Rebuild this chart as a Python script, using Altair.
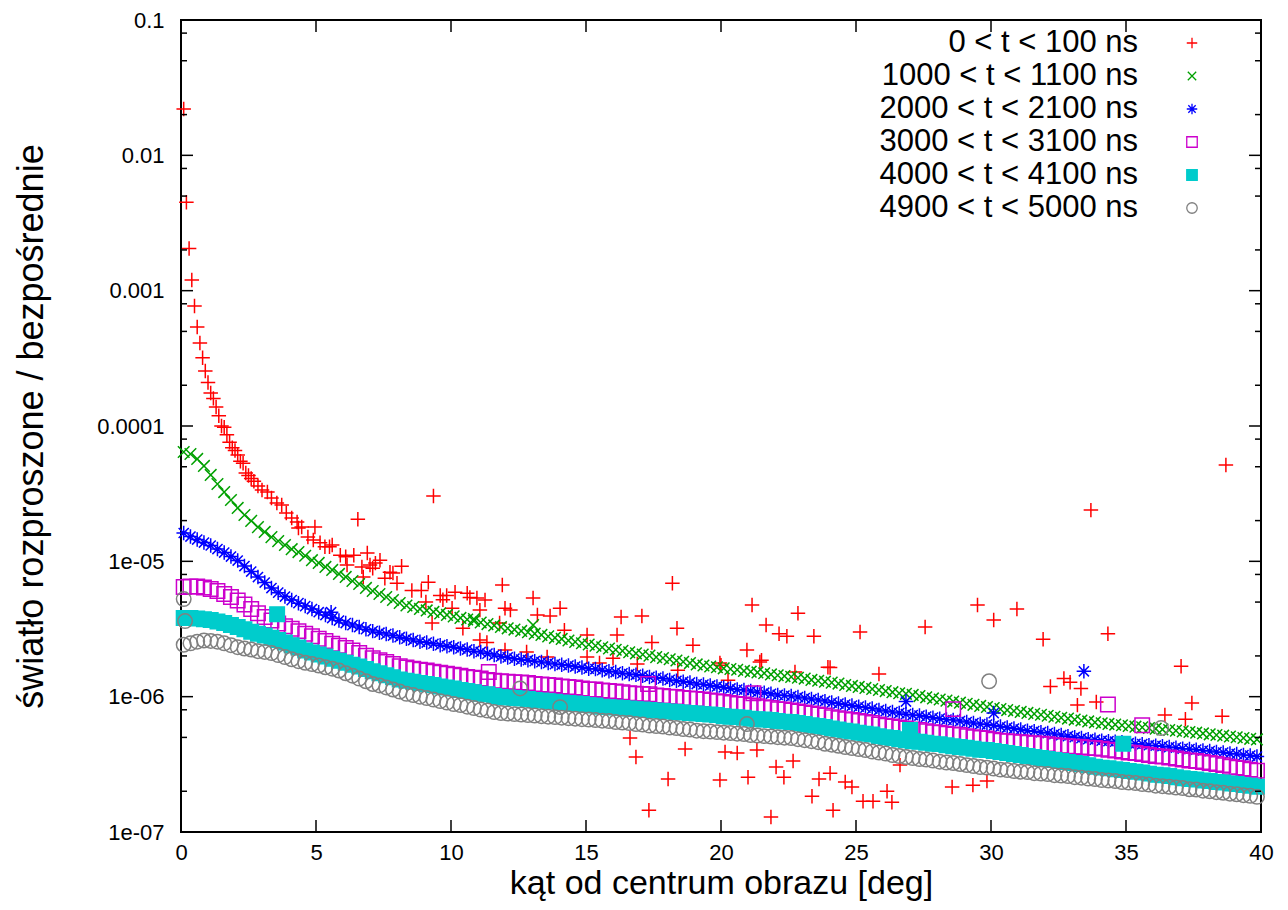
import altair as alt
import pandas as pd

# ---------------- data (values in units of 1e-7) ----------------
SERIES = ["0 < t < 100 ns", "1000 < t < 1100 ns", "2000 < t < 2100 ns",
          "3000 < t < 3100 ns", "4000 < t < 4100 ns", "4900 < t < 5000 ns"]

# common angle grid of the binned curves [deg]
GRID = [round(0.1 + 0.25 * i, 2) for i in range(160)]

GREEN = [643, 621, 571, 507, 435, 373, 325, 284, 248, 220, 199, 179, 165, 151, 141, 132, 123, 117, 110, 102,
         97.3, 90.9, 86.4, 80.7, 76.7, 71.6, 68.0, 63.6, 60.4, 57.4, 54.5, 51.8, 49.2, 47.2, 46.0, 44.5, 43.4, 42.3, 41.2, 40.2,
         39.2, 38.2, 37.2, 36.3, 35.3, 34.4, 33.6, 32.7, 32.0, 31.3, 30.6, 29.9, 29.2, 28.6, 27.9, 27.2, 26.7, 26.0, 25.4, 24.8,
         24.3, 23.8, 23.2, 22.7, 22.2, 21.8, 21.3, 20.9, 20.5, 20.1, 19.6, 19.3, 18.9, 18.5, 18.1, 17.7, 17.3, 17.0, 16.7, 16.5,
         16.2, 16.0, 15.8, 15.5, 15.3, 15.1, 14.9, 14.6, 14.4, 14.2, 14.0, 13.8, 13.6, 13.3, 13.1, 12.9, 12.7, 12.5, 12.2, 12.0,
         11.8, 11.6, 11.4, 11.2, 11.0, 10.8, 10.6, 10.5, 10.3, 10.1, 9.89, 9.71, 9.53, 9.35, 9.20, 9.03, 8.87, 8.70, 8.54, 8.39,
         8.25, 8.09, 7.96, 7.84, 7.71, 7.58, 7.46, 7.35, 7.23, 7.10, 6.99, 6.89, 6.77, 6.67, 6.56, 6.46, 6.36, 6.29, 6.22, 6.15,
         6.07, 6.00, 5.93, 5.87, 5.80, 5.73, 5.67, 5.61, 5.54, 5.48, 5.42, 5.35, 5.27, 5.21, 5.15, 5.08, 5.01, 4.95, 4.88, 4.83]

BLUE = [162, 152.5, 144.9, 137.7, 130.9, 123.3, 116.1, 108.5, 101.3, 92.3, 84.0, 76.5, 69.7, 63.5, 58.7, 54.9, 51.7, 49.1, 46.7, 44.4,
        42.1, 40.1, 38.1, 36.5, 35.0, 33.8, 32.7, 31.5, 30.5, 29.7, 29.0, 28.3, 27.5, 26.8, 26.2, 25.5, 25.1, 24.6, 24.0, 23.6,
        23.2, 22.7, 22.3, 21.7, 21.4, 20.8, 20.3, 19.8, 19.5, 19.1, 18.8, 18.6, 18.3, 18.0, 17.7, 17.4, 17.2, 17.0, 16.7, 16.4,
        16.1, 16.0, 15.7, 15.4, 15.2, 14.9, 14.7, 14.5, 14.3, 14.0, 13.8, 13.6, 13.3, 13.1, 12.9, 12.7, 12.4, 12.3, 12.1, 11.9,
        11.7, 11.5, 11.3, 11.2, 11.0, 10.8, 10.7, 10.5, 10.3, 10.2, 10.1, 9.93, 9.76, 9.60, 9.43, 9.27, 9.04, 8.89, 8.74, 8.59,
        8.44, 8.30, 8.16, 7.96, 7.82, 7.69, 7.56, 7.43, 7.31, 7.25, 7.12, 7.00, 6.88, 6.77, 6.71, 6.60, 6.49, 6.38, 6.27, 6.22,
        6.11, 6.01, 5.91, 5.81, 5.71, 5.61, 5.56, 5.47, 5.38, 5.29, 5.20, 5.11, 5.02, 4.94, 4.85, 4.81, 4.73, 4.69, 4.65, 4.61,
        4.53, 4.49, 4.46, 4.38, 4.34, 4.31, 4.24, 4.20, 4.13, 4.10, 4.06, 4.00, 3.96, 3.90, 3.86, 3.80, 3.77, 3.70, 3.67, 3.61]

MAGENTA = [64.6, 65.1, 65.1, 64.0, 62.4, 60.3, 57.3, 54.4, 51.3, 47.9, 44.4, 41.4, 38.8, 36.5, 34.7, 33.2, 31.8, 30.5, 29.2, 28.0,
           26.8, 25.8, 24.6, 23.8, 22.9, 21.9, 21.0, 20.1, 19.2, 18.6, 18.0, 17.4, 16.8, 16.4, 16.1, 15.8, 15.6, 15.3, 15.0, 14.8,
           14.5, 14.3, 14.0, 13.8, 13.6, 13.3, 13.1, 13.0, 12.9, 12.8, 12.7, 12.6, 12.4, 12.3, 12.2, 12.1, 11.9, 11.8, 11.7, 11.5,
           11.3, 11.3, 11.1, 11.0, 10.9, 10.8, 10.6, 10.5, 10.45, 10.4, 10.2, 10.1, 10.0, 9.93, 9.76, 9.68, 9.60, 9.51, 9.35, 9.27,
           9.12, 8.96, 8.81, 8.74, 8.59, 8.51, 8.37, 8.23, 8.09, 8.03, 7.89, 7.76, 7.63, 7.50, 7.37, 7.25, 7.06, 6.94, 6.82, 6.71,
           6.60, 6.49, 6.38, 6.22, 6.11, 6.01, 5.91, 5.81, 5.71, 5.66, 5.56, 5.47, 5.42, 5.33, 5.25, 5.20, 5.11, 5.02, 4.94, 4.90,
           4.81, 4.73, 4.69, 4.65, 4.61, 4.57, 4.53, 4.49, 4.46, 4.38, 4.34, 4.31, 4.27, 4.24, 4.20, 4.17, 4.13, 4.06, 4.00, 3.93,
           3.86, 3.83, 3.77, 3.70, 3.64, 3.61, 3.55, 3.49, 3.43, 3.37, 3.34, 3.29, 3.23, 3.18, 3.12, 3.04, 2.99, 2.94, 2.89, 2.84]

CYAN = [38.1, 38.1, 37.8, 37.4, 36.8, 35.9, 35.0, 33.8, 32.7, 31.5, 30.2, 29.2, 28.3, 27.3, 26.2, 25.1, 24.0, 23.1, 21.9, 21.2,
        20.5, 19.8, 19.1, 18.4, 17.8, 17.2, 16.7, 16.0, 15.4, 14.9, 14.4, 13.9, 13.4, 13.1, 12.9, 12.6, 12.4, 12.2, 11.9, 11.7,
        11.5, 11.2, 11.0, 10.8, 10.5, 10.4, 10.1, 9.93, 9.85, 9.76, 9.68, 9.60, 9.43, 9.35, 9.27, 9.19, 9.04, 8.96, 8.89, 8.81,
        8.66, 8.59, 8.44, 8.37, 8.30, 8.23, 8.16, 8.09, 8.03, 7.96, 7.89, 7.82, 7.76, 7.69, 7.63, 7.56, 7.50, 7.43, 7.37, 7.31,
        7.18, 7.12, 7.06, 7.00, 6.88, 6.82, 6.77, 6.71, 6.60, 6.54, 6.49, 6.38, 6.27, 6.16, 6.06, 5.96, 5.81, 5.71, 5.61, 5.52,
        5.42, 5.33, 5.25, 5.11, 5.02, 4.94, 4.85, 4.77, 4.69, 4.65, 4.57, 4.49, 4.46, 4.38, 4.31, 4.24, 4.20, 4.13, 4.06, 4.03,
        3.96, 3.90, 3.83, 3.77, 3.70, 3.64, 3.58, 3.52, 3.46, 3.40, 3.34, 3.29, 3.23, 3.18, 3.12, 3.04, 2.99, 2.96, 2.91, 2.87,
        2.82, 2.79, 2.75, 2.70, 2.65, 2.63, 2.59, 2.54, 2.50, 2.46, 2.44, 2.40, 2.38, 2.34, 2.32, 2.28, 2.26, 2.22, 2.20, 2.16]

GRAY = [24.2, 24.8, 25.5, 26.0, 25.8, 25.5, 24.8, 24.0, 23.2, 22.7, 22.3, 21.7, 21.4, 21.0, 20.3, 19.6, 18.9, 18.3, 17.8, 17.4,
        17.0, 16.5, 16.1, 15.6, 14.9, 14.3, 13.6, 13.0, 12.4, 12.1, 11.7, 11.3, 10.9, 10.5, 10.27, 10.0, 9.76, 9.51, 9.27, 9.04,
        8.81, 8.66, 8.44, 8.23, 8.03, 7.89, 7.69, 7.56, 7.50, 7.43, 7.37, 7.31, 7.25, 7.18, 7.12, 7.06, 7.00, 6.94, 6.88, 6.82,
        6.77, 6.71, 6.65, 6.60, 6.49, 6.43, 6.38, 6.27, 6.22, 6.11, 6.06, 6.01, 5.91, 5.86, 5.76, 5.71, 5.61, 5.56, 5.52, 5.47,
        5.42, 5.38, 5.33, 5.29, 5.20, 5.16, 5.11, 5.07, 5.02, 4.98, 4.94, 4.85, 4.77, 4.69, 4.61, 4.49, 4.42, 4.34, 4.24, 4.17,
        4.10, 4.03, 3.93, 3.86, 3.80, 3.70, 3.64, 3.58, 3.52, 3.46, 3.43, 3.37, 3.31, 3.26, 3.23, 3.18, 3.12, 3.07, 3.02, 2.99,
        2.94, 2.89, 2.87, 2.82, 2.79, 2.77, 2.72, 2.70, 2.68, 2.63, 2.61, 2.59, 2.54, 2.52, 2.48, 2.46, 2.42, 2.40, 2.38, 2.34,
        2.32, 2.30, 2.26, 2.24, 2.20, 2.18, 2.16, 2.13, 2.11, 2.07, 2.06, 2.02, 2.00, 1.97, 1.95, 1.92, 1.90, 1.87, 1.85, 1.82]

# isolated points standing out of the bands: (angle, value)
GREEN_EXTRA = [(10.85, 37.4), (13.04, 33.8)]
BLUE_EXTRA = [(5.56, 42.1), (26.85, 9.2), (30.1, 7.56), (33.44, 15.4)]
MAGENTA_EXTRA = [(11.4, 15.2), (17.3, 12.4), (21.2, 10.6), (28.6, 8.09), (34.33, 8.74), (35.6, 6.16)]
CYAN_EXTRA = [(3.56, 40.7), (27.0, 5.66), (34.9, 4.49)]
GRAY_EXTRA = [(0.1, 52.6), (0.15, 36.2), (12.56, 11.5), (14.04, 8.37), (20.96, 6.27), (29.93, 13.0), (36.3, 5.86)]

# 0 < t < 100 ns: (angle, value)
RED = [(0.1, 220000), (0.2, 45000), (0.3, 20500), (0.4, 12000), (0.5, 7700), (0.6, 5400), (0.7, 4100),
       (0.8, 3200), (0.9, 2550), (1.0, 2100), (1.1, 1750), (1.2, 1600), (1.3, 1380), (1.4, 1190), (1.5, 1000),
       (1.6, 980), (1.7, 860), (1.8, 760), (1.9, 690), (2.0, 660), (2.1, 610), (2.2, 550), (2.3, 530), (2.4, 450),
       (2.5, 430), (2.6, 410), (2.7, 390), (2.85, 360), (3.0, 336), (3.2, 325), (3.35, 294), (3.55, 270),
       (3.73, 261), (3.9, 228), (4.1, 209), (4.3, 195), (4.35, 176), (4.47, 179), (4.7, 151), (4.9, 144),
       (4.96, 179), (5.15, 137), (5.33, 128), (5.5, 128), (5.6, 132), (5.9, 111), (6.1, 108), (6.15, 94),
       (6.4, 111), (6.55, 205), (6.7, 91), (6.75, 76.5), (6.9, 115), (7.0, 94), (7.1, 89), (7.2, 97),
       (7.37, 102), (7.55, 75), (7.74, 83), (7.85, 82), (8.0, 69), (8.17, 92), (8.55, 61), (8.9, 61),
       (9.07, 50), (9.16, 70), (9.3, 35), (9.35, 304), (9.6, 56), (9.7, 52), (9.84, 56), (10.04, 45),
       (10.15, 59), (10.44, 32), (10.6, 58), (10.7, 54), (10.96, 53.5), (11.07, 43.6), (11.07, 26.2),
       (11.26, 51.7), (11.33, 25.1), (11.8, 35), (11.9, 66.8), (12.0, 45), (12.0, 22.1), (12.2, 43.6),
       (12.8, 21.4), (13.04, 53.5), (13.2, 40.1), (13.56, 19.6), (13.67, 39.4), (14.04, 45), (14.2, 31),
       (15.04, 28.5), (15.04, 19.6), (15.5, 17.7), (16.0, 19.2), (16.15, 28.5), (16.3, 38.8), (16.63, 4.94),
       (16.85, 3.58), (16.9, 17.4), (17.07, 39.4), (17.33, 1.45), (17.44, 25.1), (18.04, 2.46), (18.2, 69),
       (18.37, 32), (18.4, 15.7), (18.67, 4.1), (18.96, 24), (19.96, 17.7), (19.96, 2.42), (20.0, 17.1),
       (20.15, 3.9), (20.26, 13.2), (20.6, 3.83), (20.96, 22.1), (21.0, 2.54), (21.15, 47.5), (21.33, 4.03),
       (21.44, 18), (21.5, 18.6), (21.67, 33.8), (21.85, 1.29), (22.04, 3.02), (22.15, 29.2), (22.33, 2.54),
       (22.44, 28), (22.67, 3.34), (22.74, 15.2), (22.85, 41.4), (23.37, 1.84), (23.44, 28), (23.63, 2.46),
       (23.96, 16.5), (24.04, 2.72), (24.04, 16.4), (24.15, 1.45), (24.6, 2.34), (24.85, 2.15), (25.15, 30),
       (25.26, 1.69), (25.63, 1.69), (25.85, 14.7), (26.15, 2.0), (26.33, 1.66), (26.63, 3.12), (27.56, 32.7),
       (28.56, 2.15), (29.33, 2.22), (29.5, 47.5), (29.85, 2.38), (30.1, 36.8), (30.96, 44.4), (31.93, 26.6),
       (32.2, 11.9), (32.7, 13.6), (32.93, 12.8), (33.2, 8.66), (33.33, 11.5), (33.7, 239), (33.9, 9.12),
       (34.33, 29.2), (36.44, 7.31), (37.04, 16.8), (37.2, 6.82), (37.44, 8.96), (38.56, 7.18), (38.7, 515)]

UNIT = 1e-7

# axis ticks
X_TICKS = [0, 5, 10, 15, 20, 25, 30, 35, 40]
Y_TICKS = [1e-7, 1e-6, 1e-5, 1e-4, 1e-3, 1e-2, 1e-1]
Y_TICK_LABELS = ["1e-07", "1e-06", "1e-05", "0.0001", "0.001", "0.01", "0.1"]
Y_MINOR = [m * d for d in [1e-7, 1e-6, 1e-5, 1e-4, 1e-3, 1e-2] for m in (2, 5, 8)]

# ---------------- styling ----------------
COLORS = ["#ff0000", "#00a000", "#0000ff", "#cc00cc", "#00cccc", "#808080"]
FILLS = ["transparent", "transparent", "transparent", "transparent", "#00cccc", "transparent"]
PLUS = "M-1,0L1,0M0,-1L0,1"
CROSS = "M-0.8,-0.8L0.8,0.8M-0.8,0.8L0.8,-0.8"
STAR = "M-1,0L1,0M0,-1L0,1M-0.7,-0.7L0.7,0.7M-0.7,0.7L0.7,-0.7"
SHAPES = [PLUS, CROSS, STAR, "square", "square", "circle"]

W, H = 1080, 812
FONT = "Liberation Sans"

# ---------------- build table ----------------
rows = []
for a, v in RED:
    rows.append((a, v * UNIT, SERIES[0]))
for name, vals, extra in [(SERIES[1], GREEN, GREEN_EXTRA), (SERIES[2], BLUE, BLUE_EXTRA),
                          (SERIES[3], MAGENTA, MAGENTA_EXTRA), (SERIES[4], CYAN, CYAN_EXTRA),
                          (SERIES[5], GRAY, GRAY_EXTRA)]:
    for a, v in zip(GRID, vals):
        rows.append((a, v * UNIT, name))
    for a, v in extra:
        rows.append((a, v * UNIT, name))
df = pd.DataFrame(rows, columns=["angle", "value", "series"])
legend_df = pd.DataFrame({"series": SERIES})

xscale = alt.Scale(domain=[0, 40], nice=False, zero=False)
yscale = alt.Scale(type="log", domain=[1e-7, 0.1], nice=False)
color_scale = alt.Scale(domain=SERIES, range=COLORS)
shape_scale = alt.Scale(domain=SERIES, range=SHAPES)
fill_scale = alt.Scale(domain=SERIES, range=FILLS)

label_expr = ""
for v, lab in zip(Y_TICKS[:-1], Y_TICK_LABELS[:-1]):
    label_expr += f"datum.value < {v * 3} ? '{lab}' : "
label_expr += f"'{Y_TICK_LABELS[-1]}'"

X_AXIS = alt.Axis(values=X_TICKS, format="d", ticks=False, tickSize=0, domain=False, grid=False,
                  labelFlush=False, labelOverlap=False,
                  labelFontSize=22, labelFont=FONT, labelColor="black", labelPadding=10,
                  title="kąt od centrum obrazu [deg]", titleFontSize=34, titleFont=FONT,
                  titleFontWeight="normal", titleColor="black", titlePadding=3)
Y_AXIS = alt.Axis(values=Y_TICKS, labelExpr=label_expr, ticks=False, tickSize=0, domain=False,
                  labelFlush=False, labelOverlap=False,
                  grid=False, labelFontSize=22, labelFont=FONT, labelColor="black", labelPadding=17,
                  title="światło rozproszone / bezpośrednie", titleFontSize=36, titleFont=FONT,
                  titleFontWeight="normal", titleColor="black", titlePadding=46)

points = alt.Chart(df).mark_point(filled=False, size=210, strokeWidth=1.5, opacity=1).encode(
    x=alt.X("angle:Q", scale=xscale, axis=X_AXIS),
    y=alt.Y("value:Q", scale=yscale, axis=Y_AXIS),
    color=alt.Color("series:N", scale=color_scale, legend=None),
    shape=alt.Shape("series:N", scale=shape_scale, legend=None),
    fill=alt.Fill("series:N", scale=fill_scale, legend=None),
)

# key (gnuplot style: text right-aligned, symbol to its right)
key_y = alt.Y("series:N", scale=alt.Scale(type="point", domain=SERIES, range=[23, 188], padding=0), axis=None)
key_text = alt.Chart(legend_df).mark_text(align="right", baseline="middle", fontSize=31, font=FONT,
                                          color="black").encode(
    x=alt.value(957), y=key_y, text="series:N")
key_sym = alt.Chart(legend_df).mark_point(filled=False, size=110, strokeWidth=1.3, opacity=1).encode(
    x=alt.value(1011), y=key_y,
    color=alt.Color("series:N", scale=color_scale, legend=None),
    shape=alt.Shape("series:N", scale=shape_scale, legend=None),
    fill=alt.Fill("series:N", scale=fill_scale, legend=None),
)

ydf_major = pd.DataFrame({"v": Y_TICKS})
ydf_minor = pd.DataFrame({"v": Y_MINOR})
xdf = pd.DataFrame({"v": X_TICKS})

def ytick(d, x0, x1):
    return alt.Chart(d).mark_rule(color="black", strokeWidth=1.5).encode(
        y=alt.Y("v:Q", scale=yscale, axis=None), x=alt.value(x0), x2=alt.value(x1))

def xtick(d, y0, y1):
    return alt.Chart(d).mark_rule(color="black", strokeWidth=1.5).encode(
        x=alt.X("v:Q", scale=xscale, axis=X_AXIS), y=alt.value(y0), y2=alt.value(y1))

ticks = [ytick(ydf_major, 0, 12), ytick(ydf_major, W - 12, W),
         ytick(ydf_minor, 0, 6), ytick(ydf_minor, W - 6, W),
         xtick(xdf, H - 12, H), xtick(xdf, 0, 12)]

chart = alt.layer(points, *ticks, key_text, key_sym).resolve_scale(y="independent").properties(
    width=W, height=H, background="white",
    autosize=alt.AutoSizeParams(type="none"),
    padding={"left": 173, "top": 12, "right": 19, "bottom": 70},
).configure_view(stroke="black", strokeWidth=2)

chart.save("out.html", embed_options={"renderer": "svg", "actions": False})
